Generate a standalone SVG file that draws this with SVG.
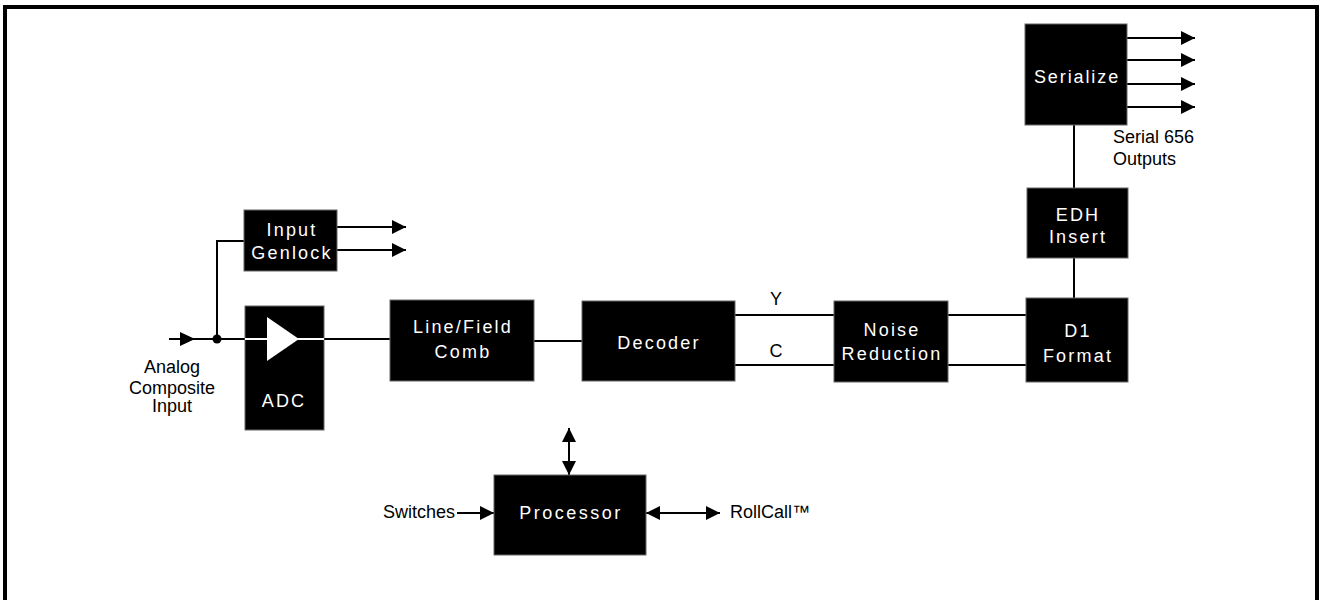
<svg xmlns="http://www.w3.org/2000/svg" width="1324" height="600" viewBox="0 0 1324 600">
<style>
.box{fill:#000;stroke:#666;stroke-width:1}
.wt{fill:#fff;font-family:"Liberation Sans",Arial,sans-serif;font-size:18px;text-anchor:middle;letter-spacing:2.2px}
.bt{fill:#000;font-family:"Liberation Sans",Arial,sans-serif;font-size:18px}
.ln{stroke:#000;stroke-width:2;fill:none}
</style>
<defs>
<marker id="ah" viewBox="0 0 14 14" refX="14" refY="7" markerWidth="14" markerHeight="14" markerUnits="userSpaceOnUse" orient="auto-start-reverse">
<path d="M0,0 L14,7 L0,14 Z" fill="#000"/>
</marker>
</defs>
<rect width="1324" height="600" fill="#fff"/>
<path d="M5,604 V7 H1317 V604" fill="none" stroke="#000" stroke-width="4"/>

<g id="connectors">
<line class="ln" x1="169" y1="339" x2="245" y2="339"/>
<path d="M180,332 L195,339 L180,346 Z" fill="#000"/>
<circle cx="217" cy="339" r="4.5" fill="#000"/>
<path class="ln" d="M217,339 V241 H244"/>
<line class="ln" x1="324" y1="339" x2="390" y2="339"/>
<line class="ln" x1="534" y1="341" x2="582" y2="341"/>
<line class="ln" x1="735" y1="315" x2="834" y2="315"/>
<line class="ln" x1="735" y1="365" x2="834" y2="365"/>
<line class="ln" x1="948" y1="315" x2="1026" y2="315"/>
<line class="ln" x1="948" y1="365" x2="1026" y2="365"/>
<line class="ln" x1="1074" y1="258" x2="1074" y2="298"/>
<line class="ln" x1="1074" y1="125" x2="1074" y2="188"/>
<line class="ln" x1="337" y1="227" x2="406" y2="227" marker-end="url(#ah)"/>
<line class="ln" x1="337" y1="250" x2="406" y2="250" marker-end="url(#ah)"/>
<line class="ln" x1="1127" y1="38" x2="1195" y2="38" marker-end="url(#ah)"/>
<line class="ln" x1="1127" y1="60" x2="1195" y2="60" marker-end="url(#ah)"/>
<line class="ln" x1="1127" y1="84" x2="1195" y2="84" marker-end="url(#ah)"/>
<line class="ln" x1="1127" y1="107" x2="1195" y2="107" marker-end="url(#ah)"/>
<line class="ln" x1="569" y1="428" x2="569" y2="475" marker-start="url(#ah)" marker-end="url(#ah)"/>
<line class="ln" x1="457" y1="513" x2="494" y2="513" marker-end="url(#ah)"/>
<line class="ln" x1="646" y1="513" x2="720" y2="513" marker-start="url(#ah)" marker-end="url(#ah)"/>
</g>

<g id="input-label">
<text class="bt" x="172" y="373" text-anchor="middle">Analog</text>
<text class="bt" x="172" y="394" text-anchor="middle">Composite</text>
<text class="bt" x="172" y="412" text-anchor="middle">Input</text>
</g>

<g id="input-genlock">
<rect class="box" x="244" y="210" width="93" height="61"/>
<text class="wt" x="292" y="236">Input</text>
<text class="wt" x="292" y="259">Genlock</text>
</g>

<g id="adc">
<rect class="box" x="245" y="306" width="79" height="124"/>
<line x1="245" y1="339" x2="324" y2="339" stroke="#fff" stroke-width="2"/>
<path d="M267,317 L299,339 L267,361 Z" fill="#fff"/>
<text class="wt" x="284" y="407">ADC</text>
</g>

<g id="line-field-comb">
<rect class="box" x="390" y="300" width="144" height="81"/>
<text class="wt" x="463" y="333">Line/Field</text>
<text class="wt" x="463" y="358">Comb</text>
</g>

<g id="decoder">
<rect class="box" x="582" y="301" width="153" height="80"/>
<text class="wt" x="659" y="349">Decoder</text>
</g>

<g id="y-label"><text class="bt" x="776" y="305" text-anchor="middle">Y</text></g>
<g id="c-label"><text class="bt" x="776" y="357" text-anchor="middle">C</text></g>

<g id="noise-reduction">
<rect class="box" x="834" y="301" width="114" height="81"/>
<text class="wt" x="892" y="336">Noise</text>
<text class="wt" x="892" y="360">Reduction</text>
</g>

<g id="d1-format">
<rect class="box" x="1026" y="298" width="102" height="84"/>
<text class="wt" x="1078" y="337">D1</text>
<text class="wt" x="1078" y="362">Format</text>
</g>

<g id="edh-insert">
<rect class="box" x="1027" y="188" width="101" height="70"/>
<text class="wt" x="1078" y="221">EDH</text>
<text class="wt" x="1078" y="243">Insert</text>
</g>

<g id="serialize">
<rect class="box" x="1025" y="24" width="102" height="101"/>
<text class="wt" x="1077" y="83" style="letter-spacing:1.9px">Serialize</text>
</g>

<g id="serial-label">
<text class="bt" x="1113" y="143">Serial 656</text>
<text class="bt" x="1113" y="165">Outputs</text>
</g>

<g id="processor">
<rect class="box" x="494" y="475" width="152" height="80"/>
<text class="wt" x="571" y="519" style="letter-spacing:2.5px">Processor</text>
</g>

<g id="switches"><text class="bt" x="455" y="518" text-anchor="end">Switches</text></g>
<g id="rollcall"><text class="bt" x="730" y="518">RollCall™</text></g>
</svg>
